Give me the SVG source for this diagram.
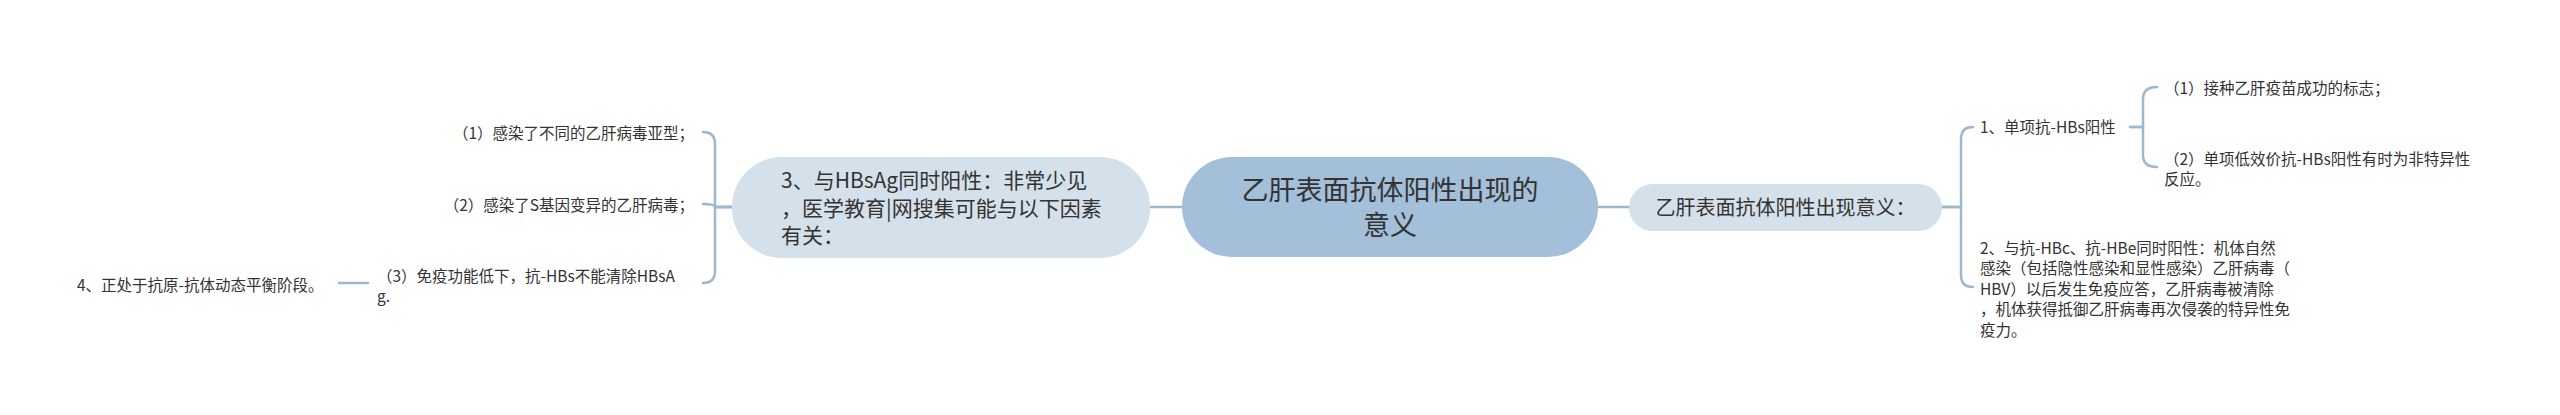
<svg xmlns="http://www.w3.org/2000/svg" width="2560" height="415" viewBox="0 0 2560 415">
<style>
text{font-family:"Noto Sans CJK SC","Microsoft YaHei",sans-serif;fill:#333333}
.t{font-size:15.5px}
.edge{fill:none;stroke:#9db7ce;stroke-width:2.5;stroke-linecap:round}
.sub{fill:#d5e1ea}
</style>
<rect width="2560" height="415" fill="#ffffff"/>
<g id="connectors">
<path class="edge" d="M1150,207 H1182"/>
<path class="edge" d="M1598,207 H1629"/>
<path class="edge" d="M732,207 H715 V144 Q715,132 703,132"/>
<path class="edge" d="M732,207 H716 Q714,204 703,204"/>
<path class="edge" d="M732,207 H715 V271 Q715,283 703,283"/>
<path class="edge" d="M368,283 H339"/>
<path class="edge" d="M1942,207 H1961 V139 Q1961,127 1973,127"/>
<path class="edge" d="M1942,207 H1961 V275 Q1961,287 1973,287"/>
<path class="edge" d="M2130,127 H2143 V99 Q2143,87 2157,87"/>
<path class="edge" d="M2130,127 H2143 V155 Q2143,167 2157,167"/>
</g>
<g id="root">
<rect x="1182" y="157" width="416" height="100" rx="50" fill="#a3bfd9"/>
<text x="1390" y="199.5" font-size="27" text-anchor="middle">乙肝表面抗体阳性出现的</text>
<text x="1390" y="234.5" font-size="27" text-anchor="middle">意义</text>
</g>
<g id="node-left">
<rect x="732" y="157" width="418" height="101" rx="50" class="sub"/>
<text x="781" y="188" font-size="21">3、与HBsAg同时阳性：非常少见</text>
<text x="781" y="215.5" font-size="21">，医学教育|网搜集可能与以下因素</text>
<text x="781" y="243" font-size="21">有关：</text>
</g>
<g id="node-right">
<rect x="1629" y="184" width="313" height="47" rx="23.5" class="sub"/>
<text x="1785.5" y="215" font-size="20" text-anchor="middle">乙肝表面抗体阳性出现意义：</text>
</g>
<g id="left-1">
<text class="t" x="694" y="139" text-anchor="end">（1）感染了不同的乙肝病毒亚型；</text>
</g>
<g id="left-2">
<text class="t" x="694" y="211" text-anchor="end">（2）感染了S基因变异的乙肝病毒；</text>
</g>
<g id="left-3">
<text class="t" x="377" y="282">（3）免疫功能低下，抗-HBs不能清除HBsA</text>
<text class="t" x="377" y="302">g.</text>
</g>
<g id="left-4">
<text class="t" x="77" y="291">4、正处于抗原-抗体动态平衡阶段。</text>
</g>
<g id="right-1">
<text class="t" x="1980" y="133">1、单项抗-HBs阳性</text>
</g>
<g id="right-1-1">
<text class="t" x="2164" y="94">（1）接种乙肝疫苗成功的标志；</text>
</g>
<g id="right-1-2">
<text class="t" x="2164" y="165">（2）单项低效价抗-HBs阳性有时为非特异性</text>
<text class="t" x="2164" y="185">反应。</text>
</g>
<g id="right-2">
<text class="t" x="1980" y="253.5">2、与抗-HBc、抗-HBe同时阳性：机体自然</text>
<text class="t" x="1980" y="274">感染（包括隐性感染和显性感染）乙肝病毒（</text>
<text class="t" x="1980" y="294.5">HBV）以后发生免疫应答，乙肝病毒被清除</text>
<text class="t" x="1980" y="315">，机体获得抵御乙肝病毒再次侵袭的特异性免</text>
<text class="t" x="1980" y="335.5">疫力。</text>
</g>
</svg>
